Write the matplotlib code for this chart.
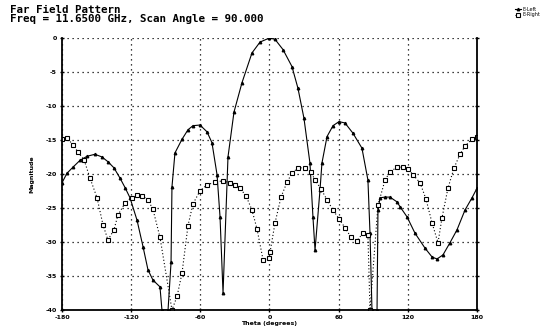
import numpy as np
import matplotlib
matplotlib.use('Agg')
import matplotlib.pyplot as plt

# copolar pattern (solid, triangles)
theta_co = [-180, -175.7, -170.5, -164.4, -158.3, -151.4, -145.3, -140.1, -134.9, -129.7,
            -125.3, -121.0, -114.9, -109.7, -105.4, -101.1, -95.0, -93.3, -88.0, -85.4,
            -84.6, -82.0, -75.9, -70.7, -66.4, -60.3, -54.2, -49.9, -45.5, -42.9,
            -40.3, -36.0, -30.8, -23.9, -15.2, -8.2, 0.0, 4.8, 11.7, 19.5,
            24.7, 29.9, 35.1, 37.7, 39.5, 43.8, 45.5, 49.9, 55.1, 60.3,
            65.5, 72.4, 80.2, 85.4, 87.2, 88.9, 93.3, 94.1, 95.9, 100.2,
            104.5, 110.6, 113.2, 119.3, 126.2, 134.9, 141.0, 145.3, 150.5, 156.6,
            162.7, 169.6, 175.7, 180]
mag_co = [-21.3, -19.9, -19.0, -18.0, -17.4, -17.1, -17.5, -18.2, -19.1, -20.6,
          -22.0, -23.5, -26.8, -30.7, -34.1, -35.6, -36.6, -40.0, -40.0, -33.0,
          -21.9, -16.9, -14.9, -13.5, -12.9, -12.8, -13.8, -15.4, -20.1, -26.3,
          -37.5, -17.5, -10.9, -6.6, -2.2, -0.6, 0.0, -0.2, -1.7, -4.2,
          -7.4, -11.8, -18.4, -26.3, -31.2, -22.4, -18.4, -14.5, -12.9, -12.3,
          -12.5, -14.0, -16.2, -20.9, -28.7, -40.0, -40.0, -25.3, -23.5, -23.4,
          -23.4, -24.1, -24.8, -26.3, -28.7, -30.9, -32.2, -32.5, -31.9, -30.1,
          -28.2, -25.3, -23.5, -22.1]

# cross-polar pattern (dotted, squares)
theta_x = [-180, -175.7, -170.5, -166.1, -160.9, -155.7, -149.6, -144.4, -140.1, -134.9,
           -131.4, -125.3, -119.3, -114.9, -110.6, -105.4, -101.1, -95.0, -84.6, -80.2,
           -75.9, -70.7, -66.4, -60.3, -54.2, -47.3, -40.3, -34.3, -30.0, -25.6,
           -20.4, -15.2, -10.8, -5.6, -0.5, 0.5, 4.8, 10.0, 15.2, 19.5,
           24.7, 30.8, 36.0, 39.5, 44.7, 49.9, 55.1, 60.3, 65.5, 70.7,
           75.9, 81.1, 85.4, 87.2, 94.1, 100.2, 104.5, 110.6, 115.8, 120.1,
           124.5, 130.6, 135.8, 141.0, 146.2, 149.6, 154.8, 160.1, 165.3, 169.6,
           175.7, 180]
mag_x = [-14.9, -14.7, -15.7, -16.8, -17.9, -20.6, -23.5, -27.5, -29.7, -28.2,
         -26.0, -24.3, -23.5, -23.1, -23.2, -23.8, -25.2, -29.3, -40.0, -38.0,
         -34.6, -27.6, -24.4, -22.5, -21.6, -21.2, -21.0, -21.3, -21.6, -22.1,
         -23.2, -25.3, -28.1, -32.6, -32.4, -31.5, -27.2, -23.4, -21.2, -19.9,
         -19.1, -19.1, -19.7, -20.9, -22.2, -23.8, -25.3, -26.6, -27.9, -29.3,
         -29.8, -28.7, -29.0, -40.0, -24.6, -20.9, -19.7, -19.0, -19.0, -19.3,
         -20.1, -21.3, -23.7, -27.2, -30.1, -26.5, -22.1, -19.1, -17.1, -15.9,
         -14.9, -14.6]

xticks = [-180, -120, -60, 0, 60, 120, 180]
yticks = [0, -5, -10, -15, -20, -25, -30, -35, -40]

fig = plt.figure(figsize=(5.52, 3.34), dpi=100)
ax = fig.add_axes([0.1123, 0.0719, 0.7518, 0.8144])

ax.plot(theta_co, mag_co, color='black', lw=0.8, marker='^', ms=1.8,
        markerfacecolor='black', label='E-Left')
ax.plot(theta_x, mag_x, color='black', lw=0.8, ls=(0, (1, 2)), marker='s', ms=2.2,
        markerfacecolor='white', markeredgewidth=0.8, label='E-Right')

ax.set_xlim(-180, 180)
ax.set_ylim(-40, 0)
ax.set_xticks(xticks)
ax.set_yticks(yticks)
ax.set_xticklabels([str(v) for v in xticks], fontsize=4.5, fontweight='bold')
ax.set_yticklabels([str(v) for v in yticks], fontsize=4.5, fontweight='bold')
ax.grid(True, color='black', linestyle=(0, (1, 3)), linewidth=0.9)
ax.tick_params(axis='both', length=3, width=1, direction='inout', pad=2)
ax.tick_params(axis='y', right=True)
for s in ['left', 'bottom', 'right']:
    ax.spines[s].set_linewidth(1.3)
ax.spines['top'].set_visible(False)

ax.set_xlabel('Theta (degrees)', fontsize=4.5, fontweight='bold', labelpad=1)
ax.set_ylabel('Magnitude', fontsize=4.5, fontweight='bold', labelpad=8)

fig.text(0.018, 0.985, 'Far Field Pattern\nFreq = 11.6500 GHz, Scan Angle = 90.000',
         family='DejaVu Sans Mono', fontsize=7.8, fontweight='bold', va='top', ha='left',
         linespacing=0.9)

fig.legend(loc='upper right', bbox_to_anchor=(0.985, 0.99), fontsize=3.5, frameon=False,
           handlelength=1.2, labelspacing=0.1, handletextpad=0.3, borderpad=0.2)

fig.savefig('out.png', dpi=100)
